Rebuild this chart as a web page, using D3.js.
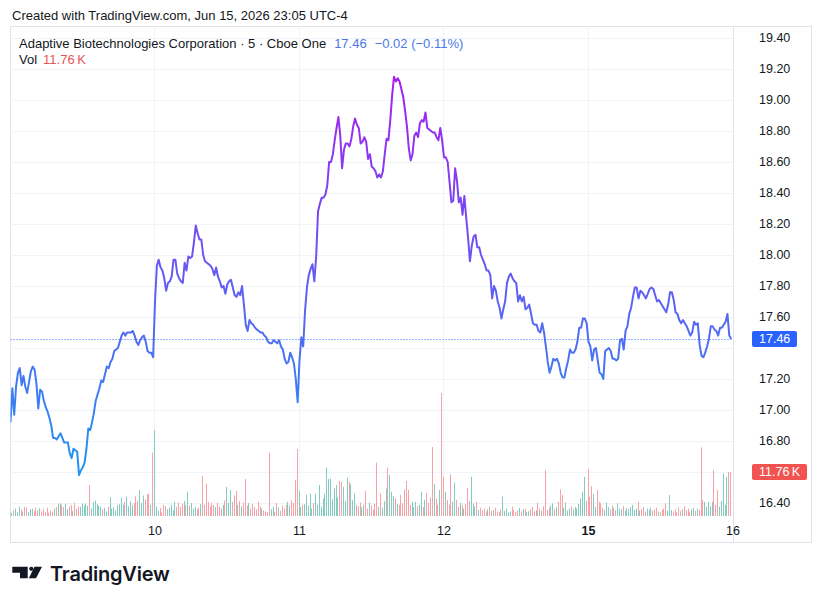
<!DOCTYPE html>
<html>
<head>
<meta charset="utf-8">
<script src="https://cdn.jsdelivr.net/npm/d3@7"></script>
<style>
  body { margin: 0; background: #fff; }
  svg { display: block; font-family: "Liberation Sans", Arial, sans-serif; }
</style>
</head>
<body>
<div id="chart"></div>
<script>

// 5 minute closes, one array per session (78 bars each)
var jun09 = [16.92,17.14,16.97,17.15,17.24,17.27,17.16,17.22,17.15,17.11,17.18,17.25,17.28,
  17.26,17.17,17.01,17.13,17.12,17.06,17.02,16.99,16.95,16.90,16.82,16.82,16.81,
  16.83,16.85,16.82,16.79,16.79,16.79,16.72,16.69,16.75,16.74,16.73,16.58,16.61,
  16.63,16.66,16.75,16.88,16.87,16.92,16.98,17.06,17.10,17.14,17.19,17.18,17.23,
  17.28,17.27,17.31,17.33,17.38,17.39,17.40,17.44,17.48,17.50,17.48,17.50,17.50,
  17.50,17.51,17.48,17.44,17.42,17.45,17.47,17.48,17.44,17.38,17.37,17.37,17.34];
var jun10 = [17.70,17.93,17.97,17.92,17.90,17.85,17.77,17.82,17.83,17.86,17.97,17.97,17.88,
  17.85,17.83,17.82,17.95,17.90,17.99,17.98,17.99,18.08,18.19,18.14,18.10,18.10,
  18.00,17.96,17.95,17.94,17.93,17.91,17.87,17.92,17.86,17.83,17.79,17.80,17.75,
  17.81,17.83,17.84,17.79,17.74,17.73,17.76,17.74,17.80,17.68,17.55,17.51,17.58,
  17.56,17.55,17.53,17.52,17.51,17.50,17.50,17.48,17.47,17.44,17.43,17.43,17.45,
  17.44,17.43,17.45,17.41,17.39,17.33,17.30,17.31,17.37,17.34,17.30,17.20,17.05];
var jun11 = [17.32,17.47,17.41,17.64,17.79,17.87,17.91,17.94,17.83,17.99,18.28,18.33,18.37,
  18.37,18.39,18.45,18.60,18.60,18.65,18.74,18.82,18.89,18.77,18.56,18.68,18.72,
  18.72,18.70,18.75,18.83,18.88,18.84,18.82,18.72,18.73,18.76,18.73,18.62,18.65,
  18.57,18.56,18.54,18.50,18.52,18.50,18.54,18.65,18.75,18.74,18.87,19.03,19.15,
  19.12,19.14,19.12,19.07,19.02,18.93,18.83,18.69,18.61,18.65,18.77,18.79,18.76,
  18.85,18.87,18.86,18.92,18.82,18.81,18.80,18.79,18.79,18.76,18.74,18.82,18.74];
var jun12 = [18.63,18.63,18.60,18.47,18.34,18.35,18.56,18.48,18.34,18.37,18.26,18.38,18.24,
  18.11,17.96,18.06,18.12,18.13,18.05,18.05,18.00,17.97,17.94,17.90,17.90,17.87,
  17.72,17.80,17.77,17.70,17.66,17.59,17.65,17.70,17.82,17.86,17.88,17.85,17.83,
  17.82,17.70,17.74,17.70,17.73,17.65,17.66,17.68,17.62,17.56,17.55,17.55,17.51,
  17.50,17.56,17.50,17.41,17.31,17.24,17.28,17.33,17.32,17.33,17.30,17.24,17.21,
  17.21,17.27,17.32,17.39,17.37,17.37,17.39,17.44,17.53,17.53,17.59,17.59,17.56];
var jun15 = [17.44,17.41,17.32,17.39,17.40,17.32,17.24,17.23,17.20,17.38,17.39,17.40,17.38,
  17.33,17.33,17.32,17.33,17.45,17.46,17.39,17.51,17.54,17.62,17.66,17.73,17.79,
  17.79,17.72,17.77,17.76,17.74,17.72,17.75,17.78,17.79,17.78,17.74,17.70,17.71,
  17.69,17.67,17.65,17.63,17.68,17.76,17.76,17.71,17.63,17.62,17.58,17.56,17.58,
  17.56,17.54,17.51,17.48,17.50,17.57,17.55,17.56,17.42,17.35,17.34,17.37,17.41,
  17.46,17.54,17.54,17.52,17.51,17.48,17.53,17.53,17.55,17.57,17.62,17.48,17.46];

// volume per bar, thousands of shares
var vol09 = [1.2,0.8,1.5,2.0,1.0,2.5,1.8,1.2,2.4,2.2,1.0,1.8,2.0,
  1.4,2.3,1.6,2.1,1.2,1.8,1.0,2.2,0.9,1.5,1.2,2.0,2.4,
  3.2,3.4,3.0,2.4,3.3,1.8,2.5,3.0,1.4,3.6,2.0,2.6,2.5,
  3.4,2.8,3.3,2.7,8.3,2.0,3.7,4.1,3.2,2.8,2.5,1.8,2.2,
  1.2,2.5,5.0,2.0,2.4,1.5,3.0,3.2,5.0,3.0,3.8,5.2,2.6,
  4.0,3.0,3.5,5.3,4.0,7.0,3.5,5.5,4.4,5.8,6.0,3.0,17.0];
var vol10 = [23.0,2.5,1.4,2.2,1.0,3.0,2.6,1.8,2.2,3.0,1.5,3.8,2.5,
  3.6,2.4,3.3,4.0,3.0,6.5,2.8,3.5,2.0,2.4,1.8,2.2,3.2,
  10.8,3.0,8.7,3.8,2.6,3.5,3.0,2.4,3.6,2.5,2.0,3.0,4.2,
  7.8,3.5,7.0,3.8,5.5,6.8,3.0,4.0,2.6,3.6,9.9,2.8,3.5,
  2.0,3.2,2.4,1.8,3.8,2.6,2.0,1.5,1.2,1.0,17.0,1.8,2.5,
  1.2,3.5,2.2,1.4,2.8,2.0,3.0,3.8,2.8,4.2,3.5,9.6,18.0];
var vol11 = [6.8,2.4,3.0,3.2,5.6,2.8,6.0,2.0,3.5,6.0,3.0,8.3,2.5,
  4.7,6.0,13.0,9.9,10.0,4.5,7.4,8.3,5.0,9.4,9.2,7.8,4.0,
  10.3,9.2,8.5,4.2,6.0,3.0,2.6,3.6,2.4,3.0,6.8,2.0,3.6,
  2.8,1.8,3.2,14.3,2.5,6.0,2.2,4.0,7.4,13.0,11.0,6.5,5.3,
  4.7,3.2,3.0,5.6,3.4,7.0,9.4,7.0,3.0,3.8,2.4,3.8,2.6,
  3.0,6.5,2.4,4.3,6.2,3.5,5.0,18.5,8.6,4.7,3.0,7.0,33.0];
var vol12 = [10.5,6.5,4.3,3.0,11.2,3.8,9.0,4.3,2.5,3.5,3.0,2.0,3.2,
  7.6,4.0,10.5,3.4,2.5,3.8,1.6,2.2,1.5,2.0,1.2,1.8,2.5,
  1.4,1.6,2.2,1.2,1.0,1.8,5.2,1.4,2.0,0.9,1.2,2.5,1.6,
  1.0,1.4,2.2,1.2,1.8,2.0,1.0,1.3,1.8,2.4,1.2,1.5,3.6,
  2.0,1.4,2.6,12.3,1.6,2.2,2.8,3.4,1.8,2.4,3.8,7.1,5.6,
  2.2,3.6,1.5,2.0,2.6,1.8,2.4,2.0,3.2,4.7,6.5,10.5,4.0];
var vol15 = [12.7,5.2,8.0,6.0,2.4,7.0,3.8,3.4,2.2,1.6,3.6,2.4,1.8,
  2.8,2.2,1.6,3.4,2.0,1.8,2.6,1.4,2.2,1.8,2.4,3.0,1.6,
  2.0,3.8,1.5,1.8,2.4,1.2,2.0,1.6,2.2,1.4,1.8,2.2,1.2,
  1.0,1.6,2.0,3.4,1.4,5.6,1.6,1.2,1.8,1.0,2.2,1.4,1.8,
  2.6,1.6,2.0,1.2,1.8,2.2,1.4,2.0,1.6,18.4,4.3,3.8,2.4,
  3.8,2.6,3.8,12.3,3.0,7.0,2.5,4.0,11.4,3.0,10.5,11.8,11.76];

var sessions = [jun09, jun10, jun11, jun12, jun15];
var volumes = [vol09, vol10, vol11, vol12, vol15];
var barsPerDay = 78;

// axis labels
var dayTicks = ["10", "11", "12", "15", "16"];
var priceTicks = [16.40, 16.60, 16.80, 17.00, 17.20, 17.40, 17.60, 17.80,
  18.00, 18.20, 18.40, 18.60, 18.80, 19.00, 19.20, 19.40];

var title = "Created with TradingView.com, Jun 15, 2026 23:05 UTC-4";
var symbol = "Adaptive Biotechnologies Corporation · 5 · Cboe One";

var W = 822, H = 604;
var plot = {left: 10.5, right: 733, top: 27, bottom: 517};

var bars = [];
sessions.forEach(function(s, d) {
  s.forEach(function(c, k) {
    bars.push({i: d * barsPerDay + k, close: c, vol: volumes[d][k]});
  });
});
bars.forEach(function(b, j) {
  b.up = j == 0 ? true : b.close >= bars[j - 1].close;
});

var svg = d3.select("#chart").append("svg")
  .attr("width", W)
  .attr("height", H);

var x = d3.scaleLinear()
  .domain([0, sessions.length * barsPerDay])
  .range([plot.left, plot.right]);
var y = d3.scaleLinear()
  .domain([16.4, 19.4])
  .range([503, 38]);
var yVol = d3.scaleLinear()
  .domain([0, d3.max(bars, function(d) { return d.vol; })])
  .range([plot.bottom - 1, 393]);

var last = bars[bars.length - 1];
var prev = bars[bars.length - 2];

// frame
svg.append("rect")
  .attr("x", 10.5).attr("y", 26.5)
  .attr("width", 801).attr("height", 516)
  .attr("fill", "none")
  .attr("stroke", "#e0e3eb");
svg.append("line")
  .attr("x1", 733.5).attr("x2", 733.5)
  .attr("y1", 26.5).attr("y2", 542.5)
  .attr("stroke", "#e0e3eb");

// grid
svg.append("g").selectAll("line")
  .data(priceTicks)
  .enter().append("line")
  .attr("x1", plot.left).attr("x2", plot.right)
  .attr("y1", function(d) { return Math.round(y(d)) + 0.5; })
  .attr("y2", function(d) { return Math.round(y(d)) + 0.5; })
  .attr("stroke", "#f0f3fa");
svg.append("g").selectAll("line")
  .data(dayTicks.slice(0, 4))
  .enter().append("line")
  .attr("x1", function(d, i) { return Math.round(x((i + 1) * barsPerDay)) - 0.5; })
  .attr("x2", function(d, i) { return Math.round(x((i + 1) * barsPerDay)) - 0.5; })
  .attr("y1", plot.top).attr("y2", plot.bottom)
  .attr("stroke", "#f0f3fa");

svg.append("defs").append("clipPath")
  .attr("id", "plotclip")
  .append("rect")
  .attr("x", plot.left).attr("y", plot.top)
  .attr("width", plot.right - plot.left)
  .attr("height", plot.bottom - plot.top);

var area = svg.append("g").attr("clip-path", "url(#plotclip)");

// volume
area.append("g").selectAll("rect")
  .data(bars)
  .enter().append("rect")
  .attr("x", function(d) { return Math.round(x(d.i)) - 1; })
  .attr("width", 1)
  .attr("y", function(d) { return yVol(d.vol); })
  .attr("height", function(d) { return yVol(0) - yVol(d.vol); })
  .attr("fill", function(d) { return d.up ? "#83ccc0" : "#f7a2a6"; });

// price line, coloured by level
var lo = d3.min(bars, function(d) { return d.close; });
var hi = d3.max(bars, function(d) { return d.close; });
var grad = svg.select("defs").append("linearGradient")
  .attr("id", "lineGrad")
  .attr("gradientUnits", "userSpaceOnUse")
  .attr("x1", 0).attr("x2", 0)
  .attr("y1", y(lo)).attr("y2", y(hi));
grad.append("stop").attr("offset", 0).attr("stop-color", "#2196f3");
grad.append("stop").attr("offset", 1).attr("stop-color", "#a61ff2");

area.append("line")
  .attr("x1", plot.left).attr("x2", plot.right)
  .attr("y1", Math.round(y(last.close)) + 0.5)
  .attr("y2", Math.round(y(last.close)) + 0.5)
  .attr("stroke", "#2962ff")
  .attr("stroke-dasharray", "1,2");

area.append("path")
  .datum(bars)
  .attr("fill", "none")
  .attr("stroke", "url(#lineGrad)")
  .attr("stroke-width", 2)
  .attr("stroke-linejoin", "round")
  .attr("d", d3.line()
    .x(function(d) { return x(d.i); })
    .y(function(d) { return y(d.close); }));

// last price / volume tags
var tags = [
  {v: y(last.close), text: last.close.toFixed(2), color: "#2962ff", w: 45},
  {v: yVol(last.vol), text: last.vol.toFixed(2) + "\u202fK", color: "#f05350", w: 55}
];

// price axis, labels hidden under a tag are dropped
var shown = priceTicks.filter(function(t) {
  return tags.every(function(g) { return Math.abs(y(t) - g.v) > 12; });
});
svg.append("g").selectAll("text")
  .data(shown)
  .enter().append("text")
  .attr("x", 759)
  .attr("y", function(d) { return y(d); })
  .attr("dy", "0.35em")
  .attr("font-size", 12.5)
  .attr("fill", "#131722")
  .text(function(d) { return d.toFixed(2); });

// time axis
svg.append("g").selectAll("text")
  .data(dayTicks)
  .enter().append("text")
  .attr("x", function(d, i) { return x((i + 1) * barsPerDay); })
  .attr("y", 531)
  .attr("dy", "0.35em")
  .attr("text-anchor", "middle")
  .attr("font-size", 12.5)
  .attr("font-weight", function(d) { return d == "15" ? "bold" : "normal"; })
  .attr("fill", "#131722")
  .text(function(d) { return d; });

var tag = svg.append("g").selectAll("g")
  .data(tags)
  .enter().append("g")
  .attr("transform", function(d) { return "translate(752," + Math.round(d.v) + ")"; });
tag.append("rect")
  .attr("x", 0).attr("y", -8)
  .attr("width", function(d) { return d.w; })
  .attr("height", 16)
  .attr("rx", 2)
  .attr("fill", function(d) { return d.color; });
tag.append("text")
  .attr("x", 7).attr("dy", "0.35em")
  .attr("font-size", 12.5)
  .attr("fill", "#fff")
  .text(function(d) { return d.text; });

// header
svg.append("text")
  .attr("x", 12).attr("y", 19.5)
  .attr("font-size", 13)
  .attr("fill", "#131722")
  .text(title);

var chg = last.close - prev.close;
var pct = chg / prev.close * 100;
var fmtSigned = function(v, n) { return (v < 0 ? "\u2212" : "+") + Math.abs(v).toFixed(n); };

var legend = svg.append("text")
  .attr("x", 19).attr("y", 47.5)
  .attr("font-size", 13)
  .attr("fill", "#131722");
legend.append("tspan").text(symbol);
legend.append("tspan").attr("dx", 8).attr("fill", "#4c78e6").text(last.close.toFixed(2));
legend.append("tspan").attr("dx", 8).attr("fill", "#4c78e6")
  .text(fmtSigned(chg, 2) + " (" + fmtSigned(pct, 2) + "%)");

var volLegend = svg.append("text")
  .attr("x", 19).attr("y", 64)
  .attr("font-size", 13)
  .attr("fill", "#131722");
volLegend.append("tspan").text("Vol");
volLegend.append("tspan").attr("dx", 6).attr("fill", "#e8545a")
  .text(last.vol.toFixed(2) + "\u202fK");

// TradingView logo
var logo = svg.append("g").attr("fill", "#131722");
logo.append("path").attr("d", "M12.3 566.7H27.7V578.3H20V572.7H12.3Z");
logo.append("circle").attr("cx", 31.3).attr("cy", 568.8).attr("r", 2.1);
logo.append("path").attr("d", "M34.5 566.7H42L36 578.3H28.8Z");
logo.append("text")
  .attr("x", 50).attr("y", 581)
  .attr("font-family", "Inter, 'Liberation Sans', sans-serif")
  .attr("font-size", 20)
  .attr("font-weight", 600)
  .attr("letter-spacing", -0.2)
  .text("TradingView");

</script>
</body>
</html>
